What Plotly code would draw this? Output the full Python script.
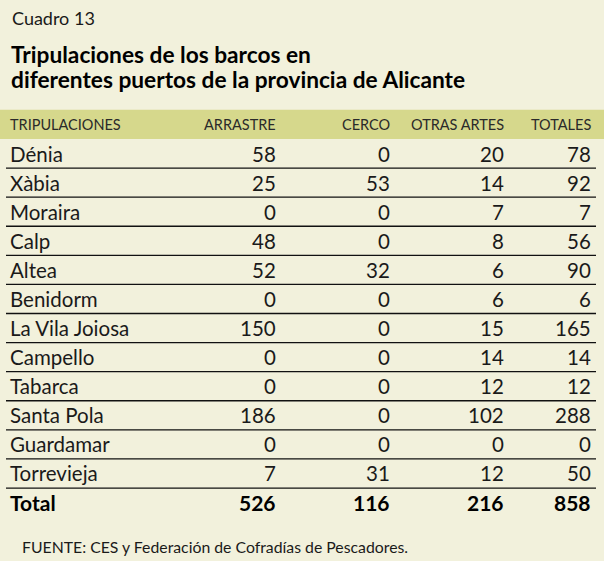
import plotly.graph_objects as go

# ---- data ----
ports = ["Dénia", "Xàbia", "Moraira", "Calp", "Altea", "Benidorm", "La Vila Joiosa",
         "Campello", "Tabarca", "Santa Pola", "Guardamar", "Torrevieja"]
arrastre = [58, 25, 0, 48, 52, 0, 150, 0, 0, 186, 0, 7]
cerco = [0, 53, 0, 0, 32, 0, 0, 0, 0, 0, 0, 31]
otras_artes = [20, 14, 7, 8, 6, 6, 15, 14, 12, 102, 0, 12]
totales = [78, 92, 7, 56, 90, 6, 165, 14, 12, 288, 0, 50]
total_label = "Total"
total_values = [526, 116, 216, 858]
headers = ["TRIPULACIONES", "ARRASTRE", "CERCO", "OTRAS ARTES", "TOTALES"]
kicker = "Cuadro 13"
title_lines = ["Tripulaciones de los barcos en",
               "diferentes puertos de la provincia de Alicante"]
source = "FUENTE: CES y Federación de Cofradías de Pescadores."

# ---- style ----
W, H = 604, 561
BG = "#f2f1dc"
BAND = "#d6d88c"
TXT = "#1a1a1a"
FONT = "Lato"
row_h = 29.09
row0 = 153.5
name_x = 8
col_right = [278, 392, 506, 593]

n = len(ports)
value_cols = [arrastre, cerco, otras_artes, totales]

fig = go.Figure()
# invisible trace to establish axes
fig.add_trace(go.Scatter(x=[0, W], y=[0, n], mode="markers", marker=dict(opacity=0),
                         hoverinfo="skip", showlegend=False))

ann = []
shapes = []
# header band
shapes.append(dict(type="rect", xref="paper", yref="y", x0=0, x1=1, y0=-1.5, y1=-0.5,
                   fillcolor=BAND, line=dict(width=0), layer="below"))
# header labels
hfont = dict(size=14.5, color="#2a2a2a", family=FONT)
ann.append(dict(x=name_x, y=-1, text=headers[0], xanchor="left", showarrow=False, font=hfont))
for cx, h in zip(col_right, headers[1:]):
    ann.append(dict(x=cx, y=-1, text=h, xanchor="right", showarrow=False, font=hfont))
# body rows
bfont = dict(size=20.5, color=TXT, family=FONT)
for i, p in enumerate(ports):
    ann.append(dict(x=name_x, y=i, text=p, xanchor="left", showarrow=False, font=bfont))
    for cx, col in zip(col_right, value_cols):
        ann.append(dict(x=cx, y=i, text=str(col[i]), xanchor="right", showarrow=False,
                        font=bfont))
    shapes.append(dict(type="line", xref="x", yref="y", x0=6, x1=596, y0=i + 0.5, y1=i + 0.5,
                       line=dict(color="#111111", width=1.3)))
# total row
tfont = dict(size=21, color="#000000", family=FONT, weight="bold")
ann.append(dict(x=name_x, y=n, text=total_label, xanchor="left", showarrow=False, font=tfont))
for cx, v in zip(col_right, total_values):
    ann.append(dict(x=cx, y=n, text=str(v), xanchor="right", showarrow=False, font=tfont))

# titles
ann.append(dict(xref="paper", yref="paper", x=10 / W, y=1 - 18 / H, text=kicker,
                xanchor="left", yanchor="middle", showarrow=False,
                font=dict(size=18, color=TXT, family=FONT)))
for k, line in enumerate(title_lines):
    ann.append(dict(xref="paper", yref="paper", x=9 / W, y=1 - (55 + 25 * k) / H, text=line,
                    xanchor="left", yanchor="middle", showarrow=False,
                    font=dict(size=22.7, color="#000000", family=FONT, weight="bold")))
ann.append(dict(xref="paper", yref="paper", x=20 / W, y=1 - 546 / H, text=source,
                xanchor="left", yanchor="middle", showarrow=False,
                font=dict(size=15.8, color=TXT, family=FONT)))

y_top = -row0 / row_h
y_bot = (H - row0) / row_h
fig.update_layout(
    width=W, height=H, margin=dict(l=0, r=0, t=0, b=0),
    paper_bgcolor=BG, plot_bgcolor=BG,
    xaxis=dict(range=[0, W], visible=False, fixedrange=True),
    yaxis=dict(range=[y_bot, y_top], visible=False, fixedrange=True),
    annotations=ann, shapes=shapes, showlegend=False,
)
fig.write_html("out.html", config={"displayModeBar": False},
               post_script="document.body.style.margin='0px';document.body.style.padding='0px';")
